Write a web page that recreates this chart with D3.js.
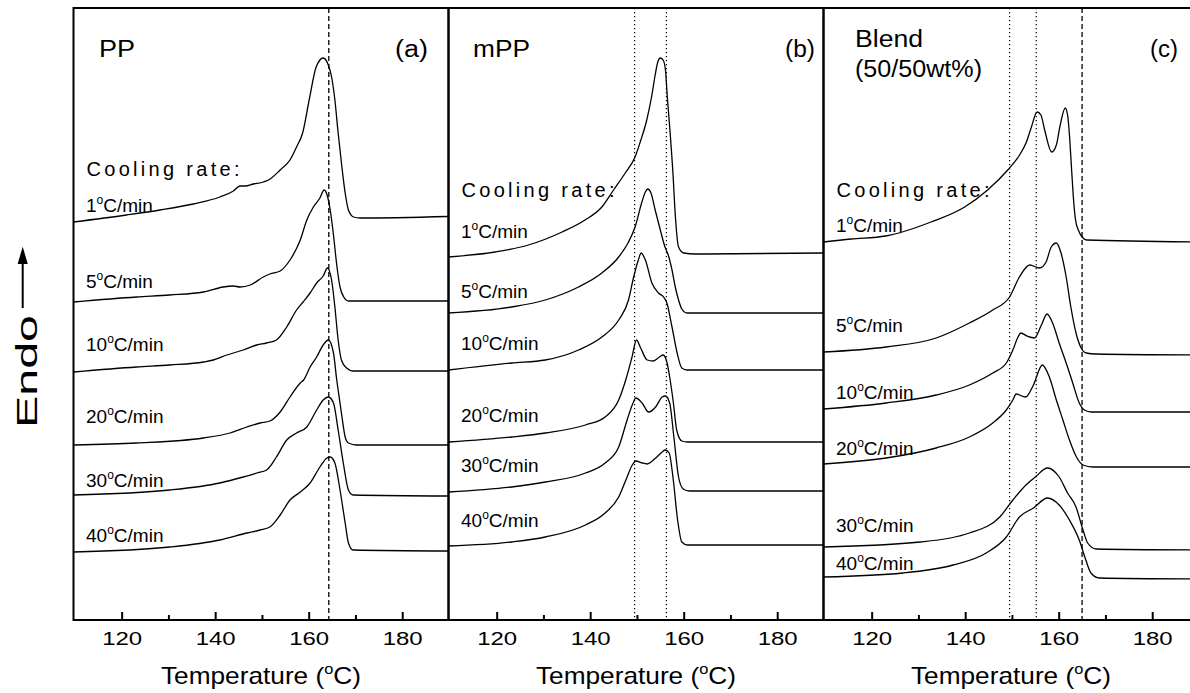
<!DOCTYPE html>
<html>
<head>
<meta charset="utf-8">
<script src="https://cdn.jsdelivr.net/npm/d3@7"></script>
<style>
  body { margin: 0; background: #fff; }
  svg { display: block; }
  text { font-family: "Liberation Sans", Arial, sans-serif; fill: #000; }
</style>
</head>
<body>
<svg id="chart" width="1190" height="693"></svg>
<script>
// DSC heating curves: [temperature degC, heat flow (arbitrary units, endo up)]
const rates = ["1", "5", "10", "20", "30", "40"];
const majorTicks = [120, 140, 160, 180];
const minorTicks = [130, 150, 170];

// (a) PP
const ppRate1 = [[109.7,398],[121,405],[128.2,410],[135.3,416],[141,423],[143.9,429],[145.3,434],[146.4,434],[148.2,436],[150.3,438],[151.4,440],[153.9,450],[156,460],[157.4,473],[158.7,487],[160.1,520],[161.6,553],[163.1,562],[164.2,555],[164.9,543],[165.6,520],[166.3,487],[167.1,453],[167.8,427],[168.5,410],[169.6,403],[171,402],[189.9,403.5]];
const ppRate5 = [[109.7,318],[123.2,323],[130.3,325],[137.5,328],[141.7,333],[143.9,334],[145.3,333],[147.5,335],[150.3,343],[151.7,346],[153.9,349],[156,360],[158.2,380],[159.6,400],[161,413],[162.4,422],[163.3,430],[164,424],[164.6,410],[165.3,385],[166,355],[166.7,333],[167.5,323],[168.5,319],[189.9,319]];
const ppRate10 = [[109.7,248],[123.2,253],[130.3,255],[137.5,258],[139.6,260],[142.5,265],[146,270],[148.9,275],[151,277],[153.1,280],[155.3,293],[157.4,310],[158.8,318],[160.3,327],[161.7,337],[163.1,344],[164,352],[164.9,340],[165.6,313],[166.3,280],[167,260],[168.1,252],[169.5,249],[189.9,249]];
const ppRate20 = [[109.7,175],[123.2,177],[137.5,182],[143.2,187],[146.8,193],[149.6,197],[151.7,199],[153.9,208],[156,223],[158.2,237],[158.9,240],[160.3,253],[161.7,263],[163.1,275],[164.2,280],[165.3,267],[166,240],[166.3,230],[167,207],[167.8,183],[168.5,177],[170.2,175],[189.9,175]];
const ppRate30 = [[109.7,125],[130.3,130],[141,137],[146,143],[148.9,147],[151,150],[153.1,163],[155.3,180],[157.4,187],[159.6,193],[161.7,210],[163.1,220],[164.2,223],[165.3,217],[166.3,190],[167.4,157],[168.5,130],[169.5,125],[189.9,124]];
const ppRate40 = [[109.7,68],[130.3,73],[141,80],[146.8,87],[149.6,90],[151.7,93],[153.9,105],[156,120],[158.2,128],[160.3,137],[162.4,153],[163.9,162],[164.6,163],[165.6,157],[166.7,130],[167.8,97],[168.5,77],[169.5,70],[189.9,69]];

// (b) mPP
const mppRate1 = [[109.7,363],[119.7,368],[126.8,375],[134,388],[138.9,400],[142.5,413],[145,430],[147.5,447],[149.6,463],[150.7,478],[152.1,500],[153.2,525],[153.9,545],[154.4,557],[155,562],[155.6,560],[156.1,550],[156.5,523],[157.1,487],[157.7,447],[158.2,405],[158.9,373],[160,367],[162.5,366],[189.9,367]];
const mppRate5 = [[109.7,307],[123.2,313],[130.4,320],[137.5,333],[142.5,347],[146.1,363],[148.2,378],[149.6,393],[151,417],[151.8,428],[152.3,431],[153,427],[153.9,410],[155,390],[156,373],[156.7,365],[157.5,350],[158.2,333],[158.9,320],[159.6,311],[160.7,307],[189.9,307]];
const mppRate10 = [[109.7,250],[123.2,257],[130.4,260],[137.5,270],[142.5,283],[146.1,300],[148.2,320],[149.3,343],[150.3,360],[150.9,367],[151.8,360],[153.2,337],[154.6,327],[155.7,323],[156.4,317],[157.5,293],[158.6,267],[159.6,252],[160.7,250],[189.9,250]];
const mppRate20 = [[109.7,178],[123.2,183],[130.4,187],[139,195],[143.2,203],[146.1,220],[147.6,240],[148.9,262],[149.9,280],[150.8,272],[152.2,260],[153.5,259],[154.8,263],[155.6,265],[156.4,258],[157,243],[157.8,217],[158.5,190],[159.6,179],[160.8,178],[189.9,178]];
const mppRate30 = [[109.7,128],[123.2,133],[130.4,138],[139,147],[143.2,157],[146.1,173],[147.9,200],[149,215],[149.8,222],[151.1,217],[152.5,208],[154,213],[155.4,223],[156.1,224],[157,217],[157.9,183],[158.9,143],[159.9,131],[161.2,129],[189.9,129]];
const mppRate40 = [[109.7,74],[123.2,78],[130.4,83],[139,95],[143.2,107],[146.1,123],[147.9,143],[149,155],[149.8,159],[151.1,157],[152.2,156],[154,162],[155.4,168],[156,170],[156.9,167],[157.7,143],[158.7,100],[159.6,78],[160.8,75],[189.9,75]];

// (c) Blend 50/50 wt%
const blendRate1 = [[109.7,378],[115.6,381],[123,384],[132.7,398],[139.9,413],[144.8,430],[149.1,450],[151.5,464],[153.1,478],[154.1,492],[155.4,508],[156.2,505],[157,490],[158.5,468],[159.5,475],[160.2,492],[161.4,512],[161.9,505],[162.3,485],[162.7,455],[163.1,425],[163.6,400],[164.2,390],[165,383],[166,380],[189.9,378]];
const blendRate5 = [[109.7,268],[123.1,273],[133.8,282],[140.9,297],[145.9,310],[149.5,323],[151.6,343],[153.8,355],[155.9,352],[157.3,358],[158.4,373],[159.5,377],[160.5,367],[161.6,343],[162.6,313],[163.7,287],[164.8,272],[165.9,267],[168,266],[189.9,265]];
const blendRate10 = [[109.7,211],[123.1,217],[133.8,225],[140.9,235],[145.9,247],[148.8,257],[150.2,270],[151.3,283],[151.9,287],[153.2,284],[154.8,282],[156.3,295],[157.5,306],[158.7,297],[160.1,277],[161.6,257],[163,237],[164.4,217],[165.5,210],[167,208],[189.9,208]];
const blendRate20 = [[109.7,156],[123.1,162],[133.8,172],[140.9,183],[145.9,197],[148.8,210],[150.2,220],[150.9,226],[152.9,223],[154.6,235],[156.5,255],[158,243],[159.5,220],[160.9,200],[162.3,180],[163.8,163],[165.2,155],[167.3,153],[189.9,153]];
const blendRate30 = [[109.7,73],[130.4,78],[140.9,87],[147.4,103],[150.2,120],[153,135],[155,143],[157.6,152],[160.1,143],[161.9,127],[163.7,113],[165.2,90],[166.2,77],[168,71],[189.9,70]];
const blendRate40 = [[109.7,43],[126.7,47],[137.4,55],[144.5,67],[148.8,83],[151.6,103],[154.6,112],[157.6,122],[160.1,115],[162.3,100],[164.4,80],[165.8,60],[166.9,47],[168.7,42],[189.9,41]];

// reference temperatures drawn as vertical lines
const ppDashed = [164.3];
const mppDotted = [149.5, 156.3];
const blendDotted = [149.5, 155.2];
const blendDashed = [165.0];

// where the rate labels sit (same units as heat flow)
const ppLabelU = [408, 332, 269, 197, 133, 78];
const mppLabelU = [382, 322, 270, 198, 148, 93];
const blendLabelU = [388, 288, 221, 165, 88, 50];

let svg = d3.select("#chart");
const plotTop = 8, plotBottom = 620, panelW = 375;

let y = d3.scaleLinear().domain([0, 612]).range([plotBottom, plotTop]);

let panels = [
    {left: 73.5, curves: [ppRate1, ppRate5, ppRate10, ppRate20, ppRate30, ppRate40],
     labelU: ppLabelU, coolU: 444, dashed: ppDashed, dotted: [],
     titles: [{t: "PP", x: 99, y: 57, w: 36}], tag: {t: "(a)", x: 428, w: 33}},
    {left: 448.5, curves: [mppRate1, mppRate5, mppRate10, mppRate20, mppRate30, mppRate40],
     labelU: mppLabelU, coolU: 423, dashed: [], dotted: mppDotted,
     titles: [{t: "mPP", x: 473, y: 57, w: 57}], tag: {t: "(b)", x: 815, w: 30}},
    {left: 823.5, curves: [blendRate1, blendRate5, blendRate10, blendRate20, blendRate30, blendRate40],
     labelU: blendLabelU, coolU: 423, dashed: blendDashed, dotted: blendDotted,
     titles: [{t: "Blend", x: 855, y: 47, w: 68}, {t: "(50/50wt%)", x: 855, y: 77, w: 127}], tag: {t: "(c)", x: 1178, w: 28}}
];

panels.forEach(function(p) {
    let x = d3.scaleLinear().domain([109.7, 189.9]).range([p.left, p.left + panelW]);
    let g = svg.append("g");

    // reference lines
    g.selectAll(".dotted")
        .data(p.dotted)
        .enter()
        .append("line")
        .attr("x1", d => x(d)).attr("x2", d => x(d))
        .attr("y1", plotTop).attr("y2", plotBottom)
        .attr("stroke", "#000").attr("stroke-width", 1.2)
        .attr("stroke-dasharray", "1.3,2.7");
    g.selectAll(".dashed")
        .data(p.dashed)
        .enter()
        .append("line")
        .attr("x1", d => x(d)).attr("x2", d => x(d))
        .attr("y1", plotTop).attr("y2", plotBottom)
        .attr("stroke", "#000").attr("stroke-width", 1.3)
        .attr("stroke-dasharray", "5,3");

    // curves
    let line = d3.line()
        .x(d => x(d[0]))
        .y(d => y(d[1]))
        .curve(d3.curveMonotoneX);
    g.selectAll(".curve")
        .data(p.curves)
        .enter()
        .append("path")
        .attr("d", line)
        .attr("fill", "none")
        .attr("stroke", "#000")
        .attr("stroke-width", 1.3);

    // frame
    g.append("rect")
        .attr("x", p.left).attr("y", plotTop)
        .attr("width", panelW).attr("height", plotBottom - plotTop)
        .attr("fill", "none").attr("stroke", "#000").attr("stroke-width", 2);

    // axis (ticks point inward)
    let ax = g.append("g").attr("transform", "translate(0," + plotBottom + ")");
    ax.call(d3.axisBottom(x).tickValues(majorTicks).tickSize(-8).tickPadding(12).tickFormat(d3.format("d")));
    ax.append("g").call(d3.axisBottom(x).tickValues(minorTicks).tickSize(-5).tickFormat(""));
    ax.selectAll(".domain").remove();
    ax.selectAll("line").attr("stroke-width", 2);
    ax.attr("font-family", null).attr("font-size", null);
    ax.selectAll("text")
        .attr("font-size", 19)
        .attr("textLength", 40)
        .attr("lengthAdjust", "spacingAndGlyphs");

    // x title
    let tt = g.append("text")
        .attr("x", p.left + panelW / 2).attr("y", 684)
        .attr("text-anchor", "middle")
        .attr("font-size", 24)
        .attr("textLength", 200)
        .attr("lengthAdjust", "spacingAndGlyphs");
    tt.append("tspan").text("Temperature (");
    tt.append("tspan").attr("font-size", 15).attr("dy", -10).text("o");
    tt.append("tspan").attr("dy", 10).text("C)");

    // panel titles
    p.titles.forEach(function(t) {
        g.append("text").attr("x", t.x).attr("y", t.y)
            .attr("font-size", 23)
            .attr("textLength", t.w).attr("lengthAdjust", "spacingAndGlyphs")
            .text(t.t);
    });
    g.append("text").attr("x", p.tag.x).attr("y", 57)
        .attr("text-anchor", "end")
        .attr("font-size", 23)
        .attr("textLength", p.tag.w).attr("lengthAdjust", "spacingAndGlyphs")
        .text(p.tag.t);

    // cooling rate labels
    g.append("text")
        .attr("x", p.left + 13).attr("y", y(p.coolU))
        .attr("font-size", 20)
        .attr("letter-spacing", 3.3)
        .text("Cooling rate:");

    rates.forEach(function(r, i) {
        let t = g.append("text")
            .attr("x", p.left + 12.5).attr("y", y(p.labelU[i]))
            .attr("font-size", 19);
        t.append("tspan").text(r);
        t.append("tspan").attr("font-size", 12).attr("dy", -8).text("o");
        t.append("tspan").attr("dy", 8).text("C/min");
    });
});

// y label with arrow
svg.append("text")
    .attr("transform", "translate(36.7,371.5) rotate(-90)")
    .attr("text-anchor", "middle")
    .attr("font-size", 30)
    .attr("textLength", 113)
    .attr("lengthAdjust", "spacingAndGlyphs")
    .text("Endo");
svg.append("line")
    .attr("x1", 22.7).attr("x2", 22.7)
    .attr("y1", 308).attr("y2", 262)
    .attr("stroke", "#000").attr("stroke-width", 2);
svg.append("path")
    .attr("d", d3.line()([[22.7, 246.7], [17.6, 264], [27.8, 264]]) + "Z")
    .attr("fill", "#000");
</script>
</body>
</html>
